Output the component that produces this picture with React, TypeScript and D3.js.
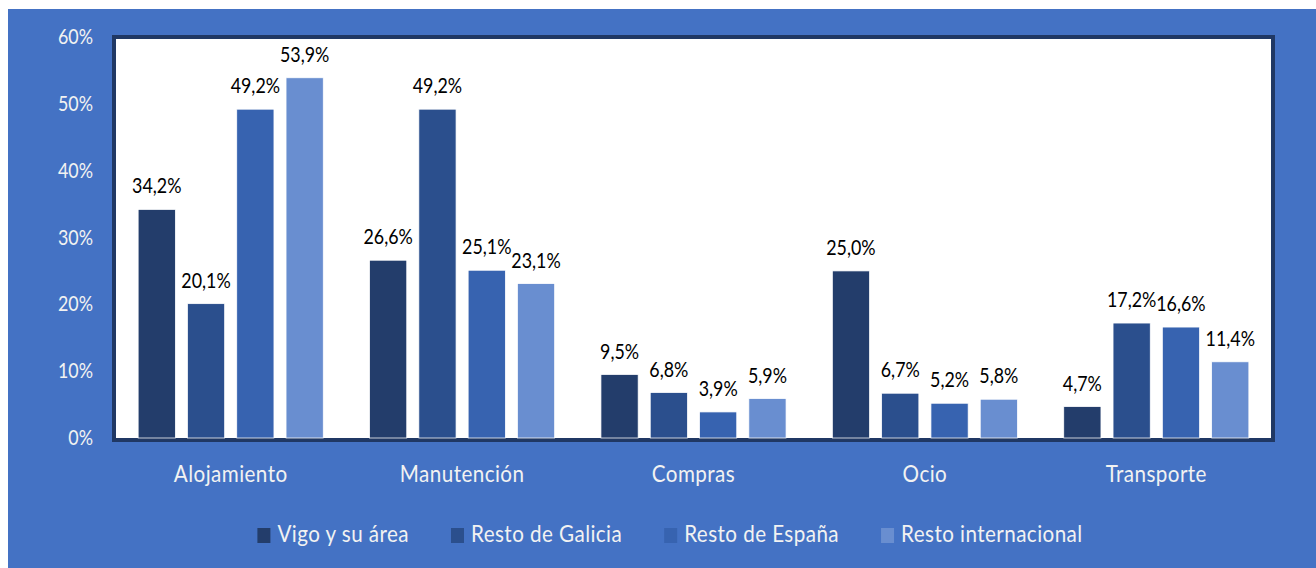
import React, { useEffect, useRef } from "react";
import * as d3 from "d3";

const categories = ["Alojamiento", "Manutención", "Compras", "Ocio", "Transporte"];
const seriesNames = ["Vigo y su área", "Resto de Galicia", "Resto de España", "Resto internacional"];
const vigo = [34.2, 26.6, 9.5, 25.0, 4.7];
const restoGalicia = [20.1, 49.2, 6.8, 6.7, 17.2];
const restoEspana = [49.2, 25.1, 3.9, 5.2, 16.6];
const restoInternacional = [53.9, 23.1, 5.9, 5.8, 11.4];
const yTicks = [0, 10, 20, 30, 40, 50, 60];
const colors = ["#233D6B", "#2B4F8D", "#3763B0", "#698ED0"];

const W = 1316;
const H = 568;
const FONT = "Lato, 'Open Sans', sans-serif";
const SX = 0.85; // horizontal squeeze of the numbers
const SX_LABEL = 0.86; // category + legend text

const App = () => {
  const svgRef = useRef<SVGSVGElement>(null);

  useEffect(() => {
    const svg = d3.select(svgRef.current);
    svg.selectAll("*").remove();

    const series = [vigo, restoGalicia, restoEspana, restoInternacional];
    const locale = d3.formatLocale({ decimal: ",", thousands: ".", grouping: [3], currency: ["", "€"] });
    const fmt = locale.format(".1f");

    // background
    svg.append("rect").attr("x", 8).attr("y", 9).attr("width", W - 8).attr("height", H - 9).attr("fill", "#4472C4");

    const left = 115, right = 1272, top = 39, bottom = 438;

    // plot area
    svg
      .append("rect")
      .attr("x", left - 1)
      .attr("y", top - 2)
      .attr("width", right - left + 2)
      .attr("height", bottom - top + 4)
      .attr("fill", "#fff")
      .attr("stroke", "#203864")
      .attr("stroke-width", 4);

    const x0 = d3.scaleBand().domain(categories).range([left, right]).padding(0);
    const groupW = x0.bandwidth() * 0.8;
    const off = (x0.bandwidth() - groupW) / 2;
    const x1 = d3.scaleBand().domain(seriesNames).range([off, off + groupW]).paddingInner(0.245).paddingOuter(0);
    const y = d3.scaleLinear().domain([0, 60]).range([bottom, 37]);

    const text = (g: any, x: number, yy: number, t: string, size: number, fill: string, anchor = "middle", sx = SX, ls = 0) =>
      g
        .append("g")
        .attr("transform", `translate(${x},${yy}) scale(${sx},1)`)
        .append("text")
        .attr("text-anchor", anchor)
        .attr("font-family", FONT)
        .attr("font-size", size)
        .attr("letter-spacing", ls)
        .attr("fill", fill)
        .text(t);

    // y ticks
    const yg = svg.append("g");
    yTicks.forEach((t) => text(yg, 93, y(t) + 7, `${t}%`, 21, "#F2F2F2", "end"));

    // bars
    const bars = svg.append("g");
    series.forEach((vals, si) => {
      vals.forEach((v, ci) => {
        const bx = (x0(categories[ci]) as number) + (x1(seriesNames[si]) as number);
        bars
          .append("rect")
          .attr("x", bx)
          .attr("y", y(v))
          .attr("width", x1.bandwidth())
          .attr("height", y(0) - y(v))
          .attr("fill", colors[si])
          .attr("stroke", "#fff")
          .attr("stroke-width", 0.75);
        text(bars, bx + x1.bandwidth() / 2, y(v) - 16, `${fmt(v)}%`, 21, "#000");
      });
    });

    // category labels
    const xg = svg.append("g");
    categories.forEach((c) =>
      text(xg, (x0(c) as number) + x0.bandwidth() / 2, 482, c, 24, "#F2F2F2", "middle", SX_LABEL, 0.5)
    );

    // legend
    const lg = svg.append("g");
    let cx = 0;
    seriesNames.forEach((s, i) => {
      const item = lg.append("g").attr("transform", `translate(${cx},0)`);
      item.append("rect").attr("x", 0).attr("y", 528).attr("width", 13).attr("height", 15).attr("fill", colors[i]);
      const tn = text(item, 20, 542, s, 24, "#F2F2F2", "start", SX_LABEL, 0.5);
      const w = (tn.node() as SVGTextElement).getComputedTextLength() * SX_LABEL;
      cx += 20 + w + 42;
    });
    const total = cx - 42;
    lg.attr("transform", `translate(${670 - total / 2},0)`);
  }, []);

  return (
    <svg ref={svgRef} width={W} height={H} style={{ position: "absolute", left: 0, top: 0 }} />
  );
};

export default App;
